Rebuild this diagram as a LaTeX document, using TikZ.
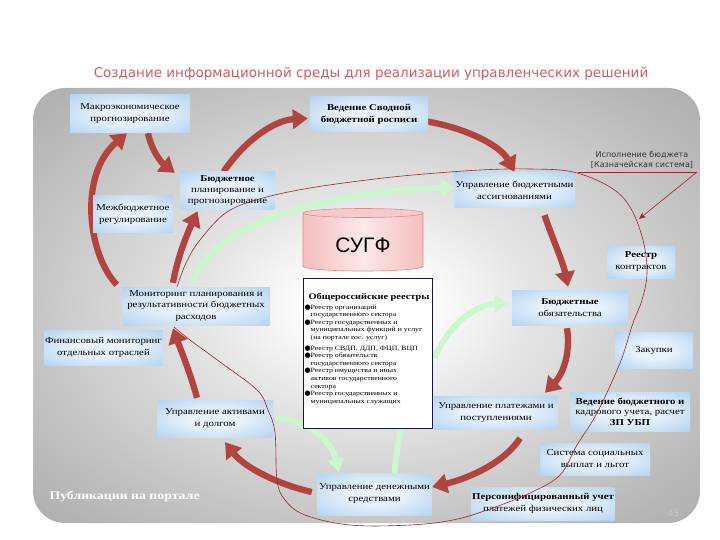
\documentclass[tikz,border=0pt]{standalone}
\usepackage{fontspec}
\setmainfont{Liberation Serif}
\newfontfamily\bxfont[FakeStretch=1.2]{Liberation Serif}
\newfontfamily\ttlfont{DejaVu Sans}
\newfontfamily\lblfont{DejaVu Sans}
\newfontfamily\cylfont{Liberation Sans}
\newfontfamily\symfont{DejaVu Sans}
\usetikzlibrary{arrows.meta,calc}
\definecolor{arrowred}{RGB}{178,68,64}
\definecolor{flowgreen}{RGB}{204,246,204}
\definecolor{boxout}{RGB}{175,208,240}
\definecolor{boxin}{RGB}{232,242,252}
\definecolor{titlered}{RGB}{203,95,95}
\definecolor{loopred}{RGB}{150,40,40}
\definecolor{bgA}{RGB}{230,230,230}
\definecolor{bgB}{RGB}{190,190,190}
\definecolor{bgC}{RGB}{172,172,172}
\definecolor{bgD}{RGB}{145,145,145}
\definecolor{cylpink}{RGB}{245,190,190}
\definecolor{cylmid}{RGB}{253,232,232}
\definecolor{cylline}{RGB}{225,140,140}
\definecolor{regline}{RGB}{20,20,60}
\pgfdeclareradialshading{bgshade}{\pgfpointorigin}{color(0bp)=(white); color(4bp)=(white); color(12bp)=(bgA); color(28bp)=(bgB); color(36bp)=(bgC); color(50bp)=(bgD)}
\pgfdeclareradialshading{boxshade}{\pgfpointorigin}{color(0bp)=(boxin); color(12bp)=(boxin); color(38bp)=(boxout); color(50bp)=(boxout)}
\pgfdeclarelayer{backlayer}
\pgfdeclarelayer{arrowlayer}
\pgfsetlayers{backlayer,arrowlayer,main}
\newcommand{\regbul}{\makebox[6pt][l]{\symfont\fontsize{7}{7}\selectfont ●}}
\newcommand{\regind}{\hspace*{6pt}}
\tikzset{
  blk/.style={rectangle, shade, shading=boxshade, inner sep=1pt, align=center,
    font=\bxfont\fontsize{9}{12}\selectfont},
  bigarrow/.style={draw=arrowred, line width=6.3pt, -{Triangle[length=15pt,width=19pt]}},
  greenarrow/.style={draw=flowgreen, line width=6pt, -{Triangle[length=13pt,width=17pt]}},
  greenline/.style={draw=flowgreen, line width=6pt},
  loopline/.style={draw=loopred, line width=0.6pt},
}
\begin{document}
\begin{tikzpicture}[x=1pt,y=-1pt]
\useasboundingbox (0,0) rectangle (720,540);
\begin{pgfonlayer}{backlayer}
\fill[white] (0,0) rectangle (720,540);
\path[shade, shading=bgshade, rounded corners=32pt] (33,88) rectangle (700,523);
\end{pgfonlayer}

% title
\node[font=\ttlfont\fontsize{13.5}{16}\selectfont, text=titlered] (title) at (371,74)
  {Создание информационной среды для реализации управленческих решений};

% boxes
\node[blk, minimum width=120pt, minimum height=38pt] (macro) at (130,114) {Макроэкономическое\\прогнозирование};
\node[blk, minimum width=118pt, minimum height=35pt, font=\bxfont\bfseries\fontsize{9}{12}\selectfont] (svod) at (369,114.5) {Ведение Сводной\\бюджетной росписи};
\node[blk, minimum width=95pt, minimum height=38pt, font=\bxfont\fontsize{9}{11}\selectfont] (bplan) at (227.5,191) {\textbf{Бюджетное}\\планирование и\\прогнозирование};
\node[blk, minimum width=80pt, minimum height=36pt] (mezh) at (133,214) {Межбюджетное\\регулирование};
\node[blk, minimum width=117pt, minimum height=35pt] (uba) at (514.5,190.5) {Управление бюджетными\\ассигнованиями};
\node[blk, minimum width=68pt, minimum height=32pt] (reestrk) at (641,262) {\textbf{Реестр}\\контрактов};
\node[blk, minimum width=116pt, minimum height=35pt] (bobyaz) at (570,307.5) {\textbf{Бюджетные}\\обязательства};
\node[blk, minimum width=78pt, minimum height=36pt] (zakup) at (654,350) {Закупки};
\node[blk, minimum width=148pt, minimum height=38pt, font=\bxfont\fontsize{9}{11.5}\selectfont] (monit) at (196,306) {Мониторинг планирования и\\результативности бюджетных\\расходов};
\node[blk, minimum width=117pt, minimum height=35pt] (finmon) at (103.5,347.5) {Финансовый мониторинг\\отдельных отраслей};
\node[blk, minimum width=116pt, minimum height=37pt] (aktiv) at (215,418.5) {Управление активами\\и долгом};
\node[blk, minimum width=124pt, minimum height=33pt] (plat) at (496,412.5) {Управление платежами и\\поступлениями};
\node[blk, minimum width=120pt, minimum height=39pt, font=\bxfont\fontsize{9}{10.5}\selectfont] (ucheta) at (630,411.5) {\textbf{Ведение бюджетного и}\\кадрового учета, расчет\\\textbf{ЗП УБП}};
\node[blk, minimum width=110pt, minimum height=32pt] (socv) at (595,459) {Система социальных\\выплат и льгот};
\node[blk, minimum width=115pt, minimum height=42pt] (dens) at (374.5,494) {Управление денежными\\средствами};
\node[blk, minimum width=130pt, minimum height=33pt] (pers) at (543,503.5) {\textbf{Персонифицированный учет}\\платежей физических лиц};

% cylinder
\path[left color=cylpink, right color=cylpink, middle color=cylmid]
  (303,213) -- (303,266) .. controls (303,272.7) and (423,272.7) .. (423,266) -- (423,213) -- cycle;
\draw[cylline, line width=0.6pt]
  (303,213) -- (303,266) .. controls (303,272.7) and (423,272.7) .. (423,266) -- (423,213);
\draw[cylline, line width=0.6pt, fill=cylpink!80!white] (363,213) ellipse [x radius=60, y radius=4.5];
\node[font=\cylfont\fontsize{21}{24}\selectfont] (sugf) at (363,245) {СУГФ};

% registry box
\node[draw=regline, line width=1pt, fill=white, minimum width=129pt, minimum height=150pt, inner sep=0] (reg) at (367.5,353) {};
\node[font=\bxfont\bfseries\fontsize{8.6}{10}\selectfont] (regtitle) at (369,297) {Общероссийские реестры};
\node[anchor=north west, align=left, inner sep=0, font=\bxfont\fontsize{6.5}{7.6}\selectfont] (reglist) at (304.5,304.5)
  {\regbul Реестр организаций\\
   \regind государственного сектора\\
   \regbul Реестр государственных и\\
   \regind муниципальных функций и услуг\\
   \regind (на портале гос. услуг)\\[3pt]
   \regbul Реестр СВДП, ДДП, ФЦП, ВЦП\\
   \regbul Реестр обязательств\\
   \regind государственного сектора\\
   \regbul Реестр имущества и иных\\
   \regind активов государственного\\
   \regind сектора\\
   \regbul Реестр государственных и\\
   \regind муниципальных служащих};

% labels
\node[font=\lblfont\fontsize{8}{10.5}\selectfont, text=black!80, align=center] (ispoln) at (642,160) {Исполнение бюджета\\{[}Казначейская система{]}};
\node[anchor=west, font=\bxfont\bfseries\fontsize{11.5}{13}\selectfont, text=white] (publ) at (46,497) {Публикации на портале};
\node[font=\lblfont\fontsize{9}{10}\selectfont, text=black!22] (pnum) at (673,513) {43};

% arrows
\begin{pgfonlayer}{arrowlayer}
\draw[greenarrow] ($(monit.north)+(-3,-5)$) .. controls (212,222) and (330,192) .. ($(uba.west)+(0,-3)$);
\draw[greenarrow] ($(reg.east)+(2,5)$) .. controls (450,322) and (478,304) .. ($(bobyaz.west)+(-4,-4)$);
\draw[greenarrow] ($(aktiv.east)+(2,-1)$) .. controls (312,420) and (333,445) .. ($(dens.north)+(-36,-1)$);
\draw[greenline] ($(dens.north)+(20,0)$) .. controls (396,455) and (399,440) .. ($(reg.south)+(33,0)$);

\draw[bigarrow] ($(monit.north west)+(-5,-2)$) .. controls (88,255) and (78,175) .. ($(macro.south)+(-3,0)$);
\draw[bigarrow] ($(macro.south)+(18,0)$) .. controls (152,152) and (162,163) .. ($(bplan.north west)+(-5,1)$);
\draw[bigarrow] ($(monit.north)+(-23,-4)$) .. controls (178,255) and (188,232) .. ($(bplan.south)+(-30,1)$);
\draw[bigarrow] ($(bplan.north)+(-4,0)$) .. controls (245,140) and (275,120) .. ($(svod.west)+(-2,4)$);
\draw[bigarrow] ($(svod.east)+(-1,7)$) .. controls (465,128) and (500,145) .. ($(uba.north)+(0,-1)$);
\draw[bigarrow] ($(uba.south)+(30,7)$) .. controls (553,240) and (563,262) .. ($(bobyaz.north)+(-2,-3)$);
\draw[bigarrow] ($(bobyaz.south)+(-3,3)$) .. controls (571,355) and (562,375) .. ($(plat.north)+(49,-3)$);
\draw[bigarrow] ($(plat.south)+(24,9)$) .. controls (505,462) and (470,478) .. ($(dens.east)+(0,-7)$);
\draw[bigarrow] ($(dens.west)+(-5,-2)$) .. controls (280,485) and (245,468) .. ($(aktiv.south)+(10,5)$);
\draw[bigarrow] ($(aktiv.north)+(-18,-2)$) .. controls (190,372) and (180,348) .. ($(monit.south)+(-23,3)$);
\end{pgfonlayer}

% treasury loop
\draw[loopline] plot[smooth, tension=0.6] coordinates {
  (177,287) (186,263) (200,240) (227,212) (263,198) (310,188) (367,180) (413,175)
  (480,170) (530,169) (573,172) (610,187) (630,207) (643,240) (647,273) (642,300)
  (633,323) (620,363) (597,413) (577,445) (560,475) (530,493) (487,510) (453,520)
  (410,525) (350,525) (305,515) (285,500) (277,480) (275,433) (268,410) (257,390)
  (220,362) (190,340) (174,327)};
\coordinate (ispL) at (578,172);
\coordinate (ispR) at (697,172);
\coordinate (isptip) at (639,219);
\draw[loopline] (ispL) -- (ispR);
\draw[loopline, -{Stealth[length=7pt,width=6pt]}] (ispR) -- (isptip);
\end{tikzpicture}
\end{document}
